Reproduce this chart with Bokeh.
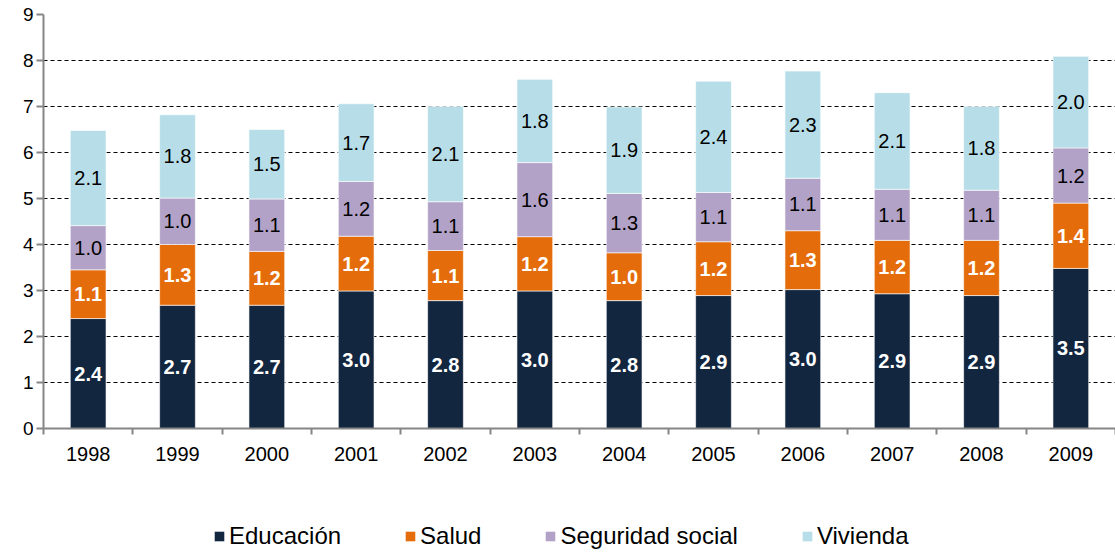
from bokeh.plotting import figure
from bokeh.layouts import column
from bokeh.models import ColumnDataSource, Range1d, FixedTicker, Legend, LegendItem
from bokeh.core.properties import value
from bokeh.embed import file_html
from bokeh.resources import INLINE

years = ["1998", "1999", "2000", "2001", "2002", "2003",
         "2004", "2005", "2006", "2007", "2008", "2009"]
educacion = [2.39, 2.68, 2.68, 2.99, 2.78, 2.99, 2.78, 2.89, 3.02, 2.93, 2.89, 3.48]
salud = [1.06, 1.32, 1.17, 1.19, 1.09, 1.18, 1.04, 1.17, 1.28, 1.16, 1.20, 1.42]
seguridad = [0.96, 1.01, 1.14, 1.19, 1.06, 1.61, 1.29, 1.07, 1.14, 1.11, 1.09, 1.20]
vivienda = [2.07, 1.81, 1.51, 1.69, 2.07, 1.81, 1.88, 2.42, 2.33, 2.10, 1.82, 1.99]

series = [
    ("Educación", educacion, "#13263f", "white", "bold"),
    ("Salud", salud, "#e46c0a", "white", "bold"),
    ("Seguridad social", seguridad, "#b3a2c7", "black", "normal"),
    ("Vivienda", vivienda, "#b7dee8", "black", "normal"),
]

FONT = "Liberation Sans"
x = [i + 0.5 for i in range(len(years))]

p = figure(width=1115, height=490, output_backend="svg", toolbar_location=None,
           x_range=Range1d(0, 12), y_range=Range1d(0, 9),
           min_border_left=43, min_border_right=0, min_border_top=14,
           min_border_bottom=62)
p.outline_line_color = None

bottom = [0.0] * len(years)
for name, vals, color, tcol, tstyle in series:
    top = [b + v for b, v in zip(bottom, vals)]
    mid = [(b + t) / 2 for b, t in zip(bottom, top)]
    src = ColumnDataSource(dict(x=x, bottom=bottom, top=top, mid=mid,
                                lab=[f"{v:.1f}" for v in vals]))
    p.vbar(x="x", bottom="bottom", top="top", width=0.4, source=src,
           fill_color=color, line_color="white", line_alpha=0.6, line_width=1)
    p.text(x="x", y="mid", text="lab", source=src, text_align="center",
           text_baseline="middle", text_color=tcol, text_font=value(FONT),
           text_font_size="20px", text_font_style=tstyle)
    bottom = top

# axes
p.yaxis.ticker = FixedTicker(ticks=list(range(0, 10)))
p.yaxis.axis_line_color = "#868686"
p.yaxis.axis_line_width = 2
p.yaxis.major_tick_line_color = "#868686"
p.yaxis.major_tick_line_width = 2
p.yaxis.major_tick_out = 7
p.yaxis.major_tick_in = 0
p.yaxis.minor_tick_line_color = None
p.yaxis.major_label_standoff = 3
p.yaxis.major_label_text_font = FONT
p.yaxis.major_label_text_font_size = "19px"
p.yaxis.major_label_text_color = "black"

p.xaxis.ticker = FixedTicker(ticks=x, minor_ticks=list(range(0, 13)))
p.xaxis.major_label_overrides = {xx: y for xx, y in zip(x, years)}
p.xaxis.axis_line_color = "#868686"
p.xaxis.axis_line_width = 2
p.xaxis.major_tick_line_color = None
p.xaxis.major_tick_out = 6
p.xaxis.major_tick_in = 0
p.xaxis.minor_tick_line_color = "#868686"
p.xaxis.minor_tick_line_width = 2
p.xaxis.minor_tick_out = 6
p.xaxis.minor_tick_in = 0
p.xaxis.major_label_standoff = 12
p.xaxis.major_label_text_font = FONT
p.xaxis.major_label_text_font_size = "20px"
p.xaxis.major_label_text_color = "black"

p.xgrid.grid_line_color = None
p.ygrid.grid_line_color = "black"
p.ygrid.grid_line_dash = "4 3"
p.ygrid.grid_line_width = 1

# legend panel below the chart (proxy glyphs lie outside its visible range)
lg = figure(width=1115, height=62, output_backend="svg", toolbar_location=None,
            x_range=Range1d(0, 1), y_range=Range1d(0, 1),
            x_axis_type=None, y_axis_type=None,
            min_border_left=0, min_border_right=0, min_border_top=0,
            min_border_bottom=0)
lg.outline_line_color = None
lg.xgrid.visible = False
lg.ygrid.visible = False
items = []
for name, vals, color, tcol, tstyle in series:
    r = lg.vbar(x=[-5], top=[-5], bottom=[-6], width=0.1,
                fill_color=color, line_color=None)
    items.append(LegendItem(label=name, renderers=[r]))

legend = Legend(items=items, orientation="horizontal", location=(170, 2),
                spacing=63, glyph_width=12, glyph_height=12, label_standoff=4,
                label_text_font=FONT, label_text_font_size="24px",
                label_text_color="black", border_line_color=None,
                background_fill_alpha=0, padding=0, margin=0)
lg.add_layout(legend, "center")

layout = column(p, lg, spacing=0)
open("out.html", "w").write(file_html(layout, INLINE))
